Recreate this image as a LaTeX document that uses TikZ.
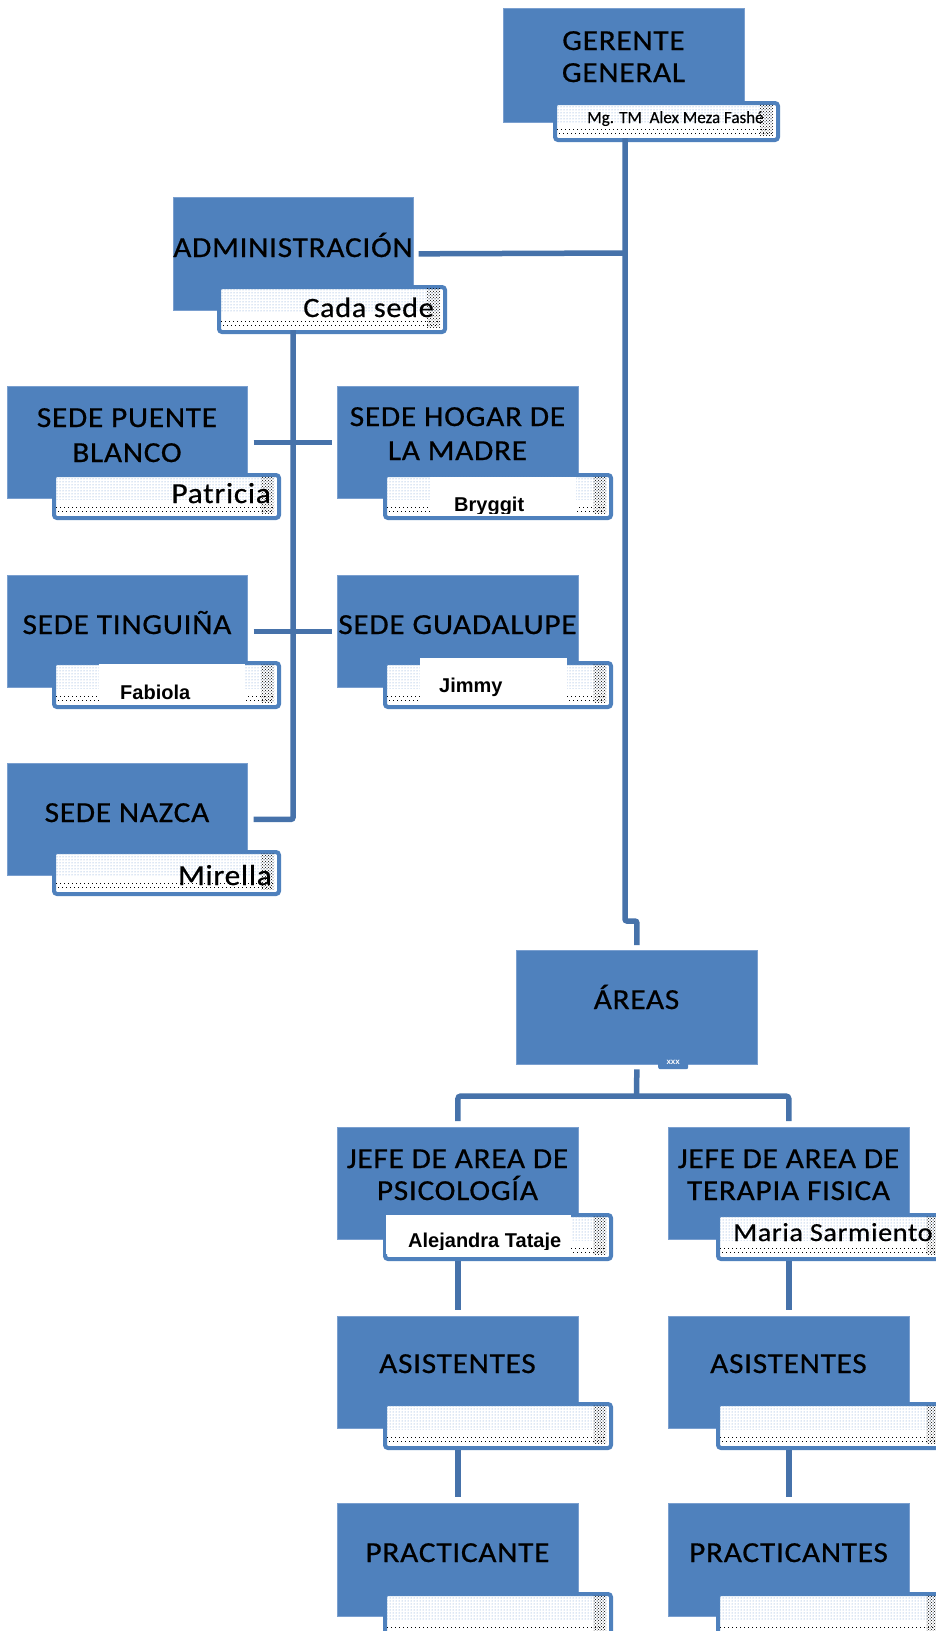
\documentclass[tikz,border=0pt]{standalone}
\usepackage{fontspec}
\usetikzlibrary{patterns}
\newfontfamily\calsp{Carlito}[LetterSpace=2.5, FakeStretch=1.08, FakeBold=0.6]
\newfontfamily\calpl{Carlito}[FakeBold=0.4]
\newfontfamily\arialf{Liberation Sans}
\definecolor{boxblue}{HTML}{4F81BD}
\definecolor{boxedge}{HTML}{7A9FCF}
\definecolor{lineblue}{HTML}{4672AA}
\definecolor{dotblue}{HTML}{6F9AD2}
\tikzset{
  bluebox/.style={draw=boxedge, fill=boxblue, line width=0.7pt, inner sep=0pt, anchor=north west},
  subbox/.style={draw=boxblue, fill=white, line width=4pt, rounded corners=3pt, inner sep=0pt, anchor=north west},
  conn/.style={draw=lineblue, line width=5.5pt},
  ttl/.style={font=\calsp\fontsize{29}{33}\selectfont, inner sep=0pt, anchor=base, text=black},
  subtxt/.style={font=\calsp\fontsize{29}{30}\selectfont, inner sep=0pt, text=black},
  smalltxt/.style={font=\calpl\fontsize{17}{20}\selectfont, inner sep=0pt, anchor=base west, text=black},
  nametxt/.style={font=\arialf\bfseries\fontsize{20}{22}\selectfont, inner sep=0pt, anchor=base west, text=black},
  namebg/.style={fill=white, draw=none, inner sep=0pt, anchor=north west},
  dotfill/.style={pattern=dots, pattern color=dotblue},
  darkfill/.style={pattern=crosshatch dots, pattern color=black},
  dotrow/.style={draw=black, line width=1pt, dash pattern=on 1pt off 3pt},
  tinytab/.style={fill=boxblue, draw=none, rounded corners=2pt, inner sep=0pt, anchor=north west,
    font=\arialf\bfseries\fontsize{8}{8}\selectfont, text=white},
}
\newcommand\mkbox[5]{\node[bluebox, minimum width={(#4-#2)*1pt}, minimum height={(#5-#3)*1pt}] (#1) at (#2,#3) {};}
\newcommand\mksub[5]{%
  \node[subbox, minimum width={(#4-#2)*1pt}, minimum height={(#5-#3)*1pt}] (#1) at (#2,#3) {};
  \fill[dotfill] ({#2+3},{#3+3}) rectangle ({#4-3},{#3+0.62*(#5-#3)});
  \fill[darkfill] ({#4-16},{#3+3}) rectangle ({#4-3},{#5-3});
  \draw[dotrow] ({#2+4},{#5-9}) -- ({#4-4},{#5-9});
  \draw[dotrow] ({#2+6},{#5-5}) -- ({#4-4},{#5-5});
}
\begin{document}
\begin{tikzpicture}[x=1pt,y=-1pt]
\useasboundingbox (0,0) rectangle (935,1631);
\fill[white] (0,0) rectangle (935,1631);

% blue boxes
\mkbox{ger}{503}{8}{744}{122}
\mkbox{adm}{173}{197}{413}{310}
\mkbox{pb}{7}{386}{247}{498}
\mkbox{hm}{337}{386}{578}{498}
\mkbox{tin}{7}{575}{247}{687}
\mkbox{gua}{337}{575}{578}{687}
\mkbox{naz}{7}{763}{247}{875}
\mkbox{are}{516}{950}{757}{1064}
\mkbox{jps}{337}{1127}{578}{1239}
\mkbox{jtf}{668}{1127}{909}{1239}
\mkbox{aps}{337}{1316}{578}{1428}
\mkbox{atf}{668}{1316}{909}{1428}
\mkbox{pps}{337}{1503}{578}{1616}
\mkbox{ptf}{668}{1503}{909}{1616}

% sub boxes
\mksub{gers}{553}{101}{776}{138}
\mksub{adms}{217}{285}{443}{330}
\mksub{pbs}{52}{473}{277}{516}
\mksub{hms}{383}{473}{609}{516}
\mksub{tins}{52}{661}{277}{705}
\mksub{guas}{383}{661}{609}{705}
\mksub{nazs}{52}{850}{277}{892}
\mksub{jpss}{383}{1213}{609}{1257}
\mksub{jtfs}{716}{1213}{942}{1257}
\mksub{apss}{383}{1402}{609}{1446}
\mksub{atfs}{716}{1402}{942}{1446}
\mksub{ppss}{383}{1592}{609}{1636}
\mksub{ptfs}{716}{1592}{942}{1636}
\node[tinytab, minimum width=30pt, minimum height=14pt] (arsub) at (658,1055) {xxx};

% white name panels
\node[namebg, minimum width=146pt, minimum height=36pt] (bryw) at (430,477) {};
\node[namebg, minimum width=146pt, minimum height=39pt] (fabw) at (99,664) {};
\node[namebg, minimum width=147pt, minimum height=44pt] (jimw) at (420,658) {};
\node[namebg, minimum width=185pt, minimum height=39pt] (alew) at (386,1215) {};

% titles
\node[ttl] (gerT1) at (623.5,50) {GERENTE};
\node[ttl] (gerT2) at (623.5,82) {GENERAL};
\node[ttl] (admT) at (293,257) {ADMINISTRACIÓN};
\node[ttl] (pbT1) at (127,427) {SEDE PUENTE};
\node[ttl] (pbT2) at (127,462) {BLANCO};
\node[ttl] (hmT1) at (457.5,426) {SEDE HOGAR DE};
\node[ttl] (hmT2) at (457.5,460) {LA MADRE};
\node[ttl] (tinT) at (127,634) {SEDE TINGUIÑA};
\node[ttl] (guaT) at (457.5,634) {SEDE GUADALUPE};
\node[ttl] (nazT) at (127,822) {SEDE NAZCA};
\node[ttl] (areT) at (636.5,1009) {ÁREAS};
\node[ttl] (jpsT1) at (457.5,1168) {JEFE DE AREA DE};
\node[ttl] (jpsT2) at (457.5,1200) {PSICOLOGÍA};
\node[ttl] (jtfT1) at (788.5,1168) {JEFE DE AREA DE};
\node[ttl] (jtfT2) at (788.5,1200) {TERAPIA FISICA};
\node[ttl] (apsT) at (457.5,1373) {ASISTENTES};
\node[ttl] (atfT) at (788.5,1373) {ASISTENTES};
\node[ttl] (ppsT) at (457.5,1562) {PRACTICANTE};
\node[ttl] (ptfT) at (788.5,1562) {PRACTICANTES};

% sub texts
\node[smalltxt] (gerN) at (587,123) {Mg. TM\ \ Alex Meza Fashé};
\node[subtxt, anchor=base east, font=\calsp\fontsize{28}{30}\selectfont] (admN) at (434,317) {Cada sede};
\node[subtxt, anchor=base east] (pbN) at (271,503) {Patricia};
\node[subtxt, anchor=base east] (nazN) at (272,885) {Mirella};
\node[subtxt, anchor=base west, font=\calsp\fontsize{26}{30}\selectfont] (jtfN) at (733,1241) {Maria Sarmiento};
\begin{scope}
  \clip (430,477) rectangle (576,513);
  \node[nametxt] (bryN) at (454,511) {Bryggit};
\end{scope}
\begin{scope}
  \clip (99,664) rectangle (245,700);
  \node[nametxt] (fabN) at (120,699) {Fabiola};
\end{scope}
\node[nametxt] (jimN) at (439,692) {Jimmy};
\begin{scope}
  \clip (386,1215) rectangle (571,1249);
  \node[nametxt] (aleN) at (408,1247) {Alejandra Tataje};
\end{scope}

% connectors
\coordinate (g0) at (625,138);
\coordinate (a0) at (293,330);
\coordinate (j1) at (625,253);
\coordinate (aj) at (636.5,1096);
\draw[conn, rounded corners=2pt] (g0) |- ([yshift=29pt]are.north) -- ([yshift=5pt]are.north);
\draw[conn, shorten <=5pt] (adm.east) -- (j1);
\draw[conn, rounded corners=2pt] (a0) |- ([xshift=6pt]naz.east);
\draw[conn, shorten <=6pt, shorten >=5pt] (pb.east) -- (hm.west);
\draw[conn, shorten <=6pt, shorten >=5pt] (tin.east) -- (gua.west);
\draw[conn] (are.south |- arsub.south) -- (aj);
\draw[conn, rounded corners=3pt] ([yshift=6pt]jps.north) |- (aj) -| ([yshift=6pt]jtf.north);
\draw[conn, shorten >=6pt] (jps.south |- jpss.south) -- (aps.north);
\draw[conn, shorten >=6pt] (jtf.south |- jtfs.south) -- (atf.north);
\draw[conn, shorten >=6pt] (aps.south |- apss.south) -- (pps.north);
\draw[conn, shorten >=6pt] (atf.south |- atfs.south) -- (ptf.north);
\end{tikzpicture}
\end{document}
